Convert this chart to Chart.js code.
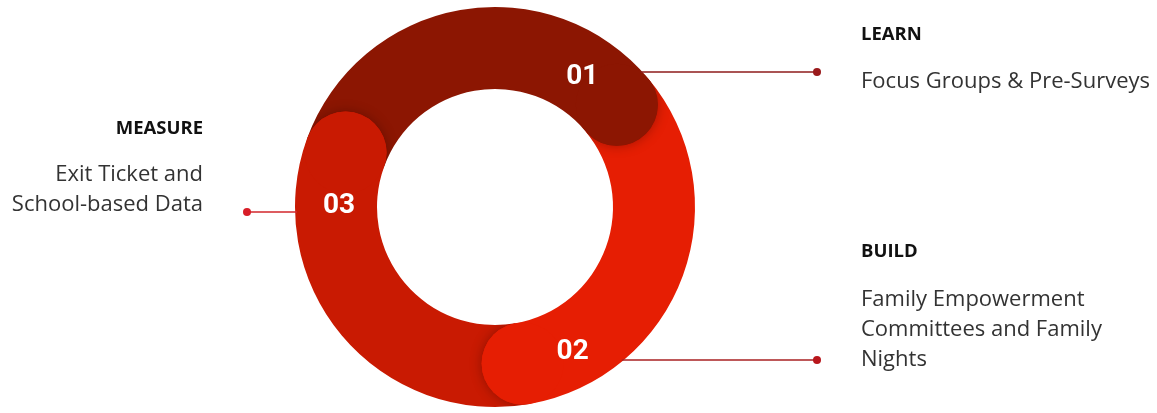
<!DOCTYPE html>
<html>
<head>
<meta charset="utf-8">
<script src="https://cdn.jsdelivr.net/npm/chart.js@4.4.1/dist/chart.umd.min.js"></script>
<style>
  html, body { margin: 0; padding: 0; background: #ffffff; }
  #wrap { width: 1157px; height: 413px; position: relative; }
</style>
</head>
<body>
<div id="wrap"><canvas id="c" width="1157" height="413"></canvas></div>
<script>
// ---- data ----
const categories = ['01', '02', '03'];
const stepTitles = ['LEARN', 'BUILD', 'MEASURE'];
const stepDescriptions = [
  ['Focus Groups & Pre-Surveys'],
  ['Family Empowerment', 'Committees and Family', 'Nights'],
  ['Exit Ticket and', 'School-based Data']
];
const segmentShare = [1, 1, 1];

// ---- styles ----
const segmentColors = ['#8C1602', '#E61E03', '#C91A02'];
const leaderColors = ['#8E1B1B', '#A82022', '#D2262B'];
const dotColors = ['#9A1A1C', '#B8161C', '#D81E28'];

// callout layout
const callouts = [
  { side: 'right', leaderY: 72, dotX: 817, textX: 861, titleBase: 40, descBase: 88 },
  { side: 'right', leaderY: 360, dotX: 817, textX: 861, titleBase: 257, descBase: 306 },
  { side: 'left', leaderY: 212, dotX: 247, textX: 203, titleBase: 134, descBase: 181 }
];
const descLineGap = 30;

const capPlugin = {
  id: 'roundedCaps',
  afterDatasetsDraw(chart) {
    const ctx = chart.ctx;
    const arcs = chart.getDatasetMeta(0).data;
    if (!arcs.length) return;
    const p0 = arcs[0].getProps(['x', 'y', 'innerRadius', 'outerRadius'], true);
    const cx = p0.x, cy = p0.y, rIn = p0.innerRadius, rOut = p0.outerRadius;
    const mid = (rIn + rOut) / 2, capR = (rOut - rIn) / 2;

    const annulus = () => {
      ctx.beginPath();
      ctx.arc(cx, cy, rOut, 0, Math.PI * 2);
      ctx.arc(cx, cy, rIn, 0, Math.PI * 2, true);
      ctx.clip('evenodd');
    };

    arcs.forEach((arc, i) => {
      const a = arc.getProps(['endAngle'], true).endAngle;
      const px = cx + mid * Math.cos(a), py = cy + mid * Math.sin(a);
      // shadow pass, forward side only
      ctx.save();
      ctx.beginPath();
      ctx.moveTo(cx, cy);
      ctx.arc(cx, cy, rOut + 2, a, a + 0.8);
      ctx.closePath();
      ctx.clip();
      annulus();
      ctx.shadowColor = 'rgba(40,0,0,0.35)';
      ctx.shadowBlur = 12;
      ctx.fillStyle = segmentColors[i];
      ctx.beginPath();
      ctx.arc(px, py, capR, 0, Math.PI * 2);
      ctx.fill();
      ctx.restore();
      // clean full cap pass
      ctx.save();
      annulus();
      ctx.fillStyle = segmentColors[i];
      ctx.beginPath();
      ctx.arc(px, py, capR, 0, Math.PI * 2);
      ctx.fill();
      ctx.restore();
    });

    // numbers
    ctx.save();
    ctx.fillStyle = '#ffffff';
    ctx.font = 'bold 28px Roboto';
    ctx.textAlign = 'center';
    ctx.textBaseline = 'middle';
    arcs.forEach((arc, i) => {
      const a = arc.getProps(['endAngle'], true).endAngle - 18 * Math.PI / 180;
      ctx.fillText(categories[i], cx + mid * Math.cos(a) + 3, cy + mid * Math.sin(a) + 5);
    });
    ctx.restore();

    // leaders and text
    callouts.forEach((c, i) => {
      const dy = c.leaderY - cy;
      const dx = Math.sqrt(Math.max(rOut * rOut - dy * dy, 0));
      const edgeX = c.side === 'right' ? cx + dx - 2 : cx - dx + 2;
      ctx.save();
      ctx.strokeStyle = leaderColors[i];
      ctx.lineWidth = 1.5;
      ctx.beginPath();
      ctx.moveTo(edgeX, c.leaderY);
      ctx.lineTo(c.dotX, c.leaderY);
      ctx.stroke();
      ctx.fillStyle = dotColors[i];
      ctx.beginPath();
      ctx.arc(c.dotX, c.leaderY, 4, 0, Math.PI * 2);
      ctx.fill();

      ctx.textAlign = c.side === 'right' ? 'left' : 'right';
      ctx.textBaseline = 'alphabetic';
      ctx.fillStyle = '#111111';
      ctx.font = 'bold 18.5px "Open Sans"';
      ctx.fillText(stepTitles[i], c.textX, c.titleBase);
      ctx.fillStyle = '#333333';
      ctx.font = '22px "Open Sans"';
      stepDescriptions[i].forEach((line, k) => {
        ctx.fillText(line, c.textX, c.descBase + k * descLineGap);
      });
      ctx.restore();
    });
  }
};

new Chart(document.getElementById('c'), {
  type: 'doughnut',
  data: {
    labels: categories,
    datasets: [{
      data: segmentShare,
      backgroundColor: segmentColors,
      borderWidth: 0,
      hoverOffset: 0,
      offset: 0
    }]
  },
  options: {
    responsive: false,
    animation: false,
    events: [],
    rotation: -70,
    cutout: '59%',
    layout: { padding: { top: 7, bottom: 6, left: 295, right: 462 } },
    plugins: { legend: { display: false }, tooltip: { enabled: false } }
  },
  plugins: [capPlugin]
});
</script>
</body>
</html>
